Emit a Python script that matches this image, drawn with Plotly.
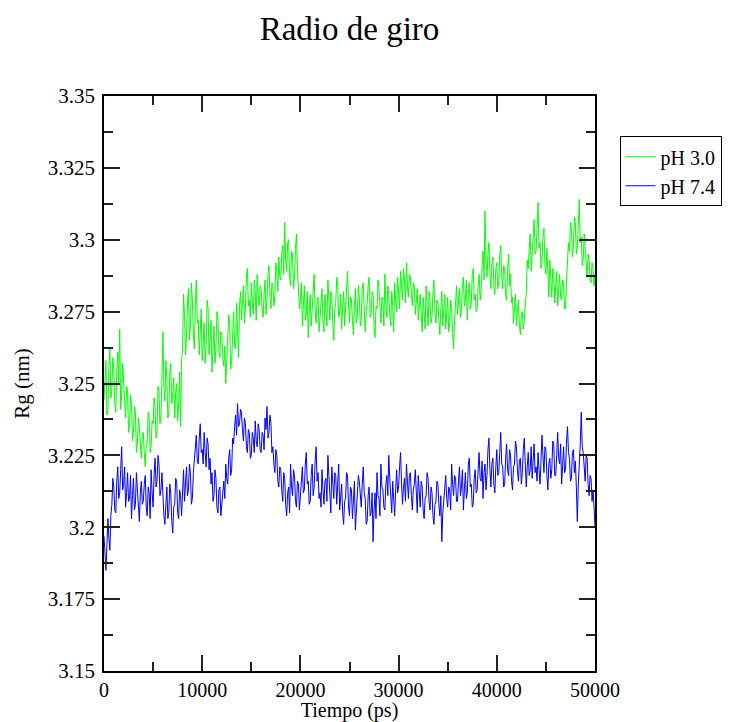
import plotly.graph_objects as go

time_ps = [100 * i for i in range(501)]

rg_ph30 = [
    3.244, 3.252, 3.258, 3.239, 3.241, 3.256, 3.262, 3.245, 3.248, 3.259, 3.255, 3.243, 3.240, 3.254, 3.261, 3.250, 3.269, 3.241, 3.246, 3.257,
    3.252, 3.244, 3.238, 3.249, 3.247, 3.233, 3.236, 3.246, 3.243, 3.230, 3.233, 3.242, 3.240, 3.226, 3.229, 3.238, 3.235, 3.227, 3.224, 3.232,
    3.233, 3.226, 3.221, 3.229, 3.230, 3.240, 3.238, 3.226, 3.228, 3.237, 3.236, 3.245, 3.242, 3.231, 3.234, 3.249, 3.247, 3.236, 3.239, 3.252,
    3.268, 3.249, 3.244, 3.258, 3.252, 3.238, 3.240, 3.254, 3.257, 3.243, 3.246, 3.252, 3.238, 3.247, 3.250, 3.237, 3.243, 3.254, 3.235, 3.258,
    3.262, 3.281, 3.274, 3.260, 3.266, 3.278, 3.283, 3.265, 3.270, 3.285, 3.279, 3.267, 3.262, 3.277, 3.286, 3.271, 3.272, 3.260, 3.268, 3.276,
    3.258, 3.266, 3.271, 3.257, 3.263, 3.279, 3.276, 3.260, 3.266, 3.272, 3.254, 3.263, 3.270, 3.257, 3.262, 3.275, 3.273, 3.261, 3.259, 3.268,
    3.267, 3.259, 3.256, 3.263, 3.250, 3.258, 3.264, 3.274, 3.271, 3.255, 3.258, 3.268, 3.275, 3.263, 3.262, 3.278, 3.268, 3.259, 3.277, 3.282,
    3.272, 3.280, 3.284, 3.271, 3.276, 3.287, 3.290, 3.277, 3.279, 3.273, 3.285, 3.278, 3.274, 3.286, 3.282, 3.272, 3.288, 3.280, 3.277, 3.284,
    3.283, 3.276, 3.273, 3.281, 3.286, 3.274, 3.279, 3.288, 3.291, 3.280, 3.276, 3.285, 3.284, 3.277, 3.280, 3.292, 3.289, 3.282, 3.294, 3.287,
    3.286, 3.295, 3.298, 3.288, 3.306, 3.293, 3.289, 3.299, 3.300, 3.287, 3.284, 3.296, 3.295, 3.283, 3.287, 3.297, 3.302, 3.290, 3.282, 3.276,
    3.279, 3.285, 3.270, 3.277, 3.284, 3.272, 3.274, 3.282, 3.266, 3.275, 3.281, 3.270, 3.276, 3.283, 3.288, 3.275, 3.271, 3.279, 3.280, 3.268,
    3.273, 3.279, 3.283, 3.271, 3.268, 3.281, 3.277, 3.270, 3.286, 3.276, 3.272, 3.282, 3.280, 3.271, 3.265, 3.276, 3.278, 3.287, 3.284, 3.273,
    3.275, 3.281, 3.269, 3.277, 3.282, 3.270, 3.276, 3.285, 3.289, 3.278, 3.271, 3.280, 3.279, 3.272, 3.267, 3.277, 3.283, 3.271, 3.274, 3.284,
    3.280, 3.270, 3.272, 3.283, 3.285, 3.276, 3.268, 3.275, 3.278, 3.284, 3.287, 3.273, 3.274, 3.282, 3.281, 3.270, 3.266, 3.277, 3.276, 3.286,
    3.283, 3.277, 3.271, 3.280, 3.279, 3.270, 3.288, 3.278, 3.273, 3.284, 3.281, 3.274, 3.270, 3.282, 3.277, 3.268, 3.285, 3.279, 3.275, 3.287,
    3.282, 3.276, 3.289, 3.283, 3.279, 3.290, 3.286, 3.278, 3.292, 3.284, 3.280, 3.288, 3.287, 3.281, 3.277, 3.285, 3.284, 3.274, 3.278, 3.283,
    3.272, 3.278, 3.281, 3.274, 3.268, 3.280, 3.276, 3.269, 3.284, 3.277, 3.270, 3.282, 3.279, 3.271, 3.273, 3.282, 3.286, 3.275, 3.271, 3.279,
    3.278, 3.272, 3.267, 3.276, 3.282, 3.270, 3.274, 3.281, 3.269, 3.277, 3.280, 3.268, 3.271, 3.279, 3.276, 3.268, 3.262, 3.272, 3.279, 3.284,
    3.274, 3.280, 3.283, 3.273, 3.276, 3.284, 3.287, 3.277, 3.279, 3.286, 3.272, 3.281, 3.285, 3.276, 3.278, 3.288, 3.290, 3.279, 3.281, 3.275,
    3.276, 3.284, 3.288, 3.279, 3.282, 3.291, 3.296, 3.286, 3.310, 3.293, 3.287, 3.295, 3.299, 3.288, 3.283, 3.292, 3.294, 3.284, 3.281, 3.290,
    3.292, 3.283, 3.285, 3.294, 3.298, 3.287, 3.283, 3.291, 3.290, 3.281, 3.279, 3.289, 3.295, 3.284, 3.288, 3.278, 3.280, 3.271, 3.276, 3.281,
    3.270, 3.276, 3.279, 3.271, 3.267, 3.274, 3.275, 3.269, 3.272, 3.278, 3.281, 3.293, 3.290, 3.297, 3.302, 3.289, 3.294, 3.301, 3.307, 3.295,
    3.296, 3.304, 3.313, 3.297, 3.299, 3.290, 3.292, 3.301, 3.304, 3.291, 3.288, 3.297, 3.286, 3.280, 3.293, 3.284, 3.280, 3.290, 3.289, 3.278,
    3.282, 3.289, 3.277, 3.283, 3.288, 3.280, 3.279, 3.286, 3.285, 3.276, 3.276, 3.286, 3.291, 3.299, 3.296, 3.306, 3.304, 3.294, 3.298, 3.308,
    3.306, 3.295, 3.297, 3.304, 3.314, 3.299, 3.301, 3.291, 3.293, 3.302, 3.297, 3.289, 3.287, 3.295, 3.293, 3.286, 3.285, 3.292, 3.290, 3.284,
    3.288,
]

rg_ph74 = [
    3.197, 3.189, 3.185, 3.194, 3.203, 3.196, 3.192, 3.204, 3.208, 3.217, 3.214, 3.206, 3.205, 3.216, 3.221, 3.210, 3.212, 3.220, 3.228, 3.213,
    3.215, 3.221, 3.207, 3.212, 3.219, 3.209, 3.210, 3.218, 3.203, 3.211, 3.217, 3.206, 3.208, 3.219, 3.213, 3.204, 3.202, 3.212, 3.216, 3.208,
    3.209, 3.215, 3.218, 3.207, 3.204, 3.214, 3.212, 3.203, 3.220, 3.212, 3.207, 3.218, 3.224, 3.214, 3.216, 3.225, 3.222, 3.211, 3.213, 3.219,
    3.210, 3.204, 3.201, 3.211, 3.214, 3.203, 3.205, 3.215, 3.212, 3.202, 3.198, 3.207, 3.208, 3.217, 3.216, 3.205, 3.203, 3.213, 3.211, 3.204,
    3.214, 3.220, 3.209, 3.215, 3.221, 3.211, 3.213, 3.222, 3.219, 3.208, 3.210, 3.219, 3.224, 3.230, 3.232, 3.223, 3.222, 3.231, 3.236, 3.226,
    3.227, 3.222, 3.233, 3.226, 3.221, 3.231, 3.229, 3.220, 3.224, 3.215, 3.219, 3.209, 3.211, 3.220, 3.217, 3.207, 3.205, 3.213, 3.214, 3.204,
    3.208, 3.213, 3.216, 3.210, 3.222, 3.217, 3.215, 3.224, 3.227, 3.218, 3.220, 3.231, 3.229, 3.235, 3.239, 3.232, 3.243, 3.235, 3.236, 3.241,
    3.240, 3.234, 3.230, 3.238, 3.236, 3.228, 3.226, 3.234, 3.233, 3.224, 3.225, 3.233, 3.231, 3.226, 3.237, 3.230, 3.228, 3.236, 3.234, 3.227,
    3.226, 3.233, 3.232, 3.227, 3.238, 3.234, 3.242, 3.231, 3.233, 3.239, 3.236, 3.226, 3.228, 3.222, 3.219, 3.227, 3.225, 3.216, 3.214, 3.221,
    3.220, 3.213, 3.209, 3.219, 3.217, 3.208, 3.204, 3.212, 3.214, 3.205, 3.222, 3.214, 3.211, 3.220, 3.218, 3.209, 3.207, 3.216, 3.215, 3.206,
    3.210, 3.217, 3.221, 3.212, 3.213, 3.222, 3.226, 3.215, 3.216, 3.208, 3.209, 3.218, 3.222, 3.211, 3.214, 3.223, 3.228, 3.216, 3.219, 3.210,
    3.212, 3.207, 3.220, 3.213, 3.208, 3.216, 3.217, 3.209, 3.225, 3.218, 3.213, 3.205, 3.221, 3.214, 3.210, 3.219, 3.218, 3.208, 3.214, 3.222,
    3.206, 3.212, 3.215, 3.205, 3.201, 3.209, 3.210, 3.219, 3.218, 3.207, 3.204, 3.214, 3.213, 3.203, 3.208, 3.216, 3.199, 3.206, 3.211, 3.218,
    3.216, 3.209, 3.207, 3.215, 3.221, 3.212, 3.210, 3.201, 3.202, 3.211, 3.214, 3.204, 3.205, 3.212, 3.195, 3.206, 3.212, 3.203, 3.219, 3.211,
    3.210, 3.204, 3.222, 3.214, 3.213, 3.207, 3.206, 3.215, 3.218, 3.211, 3.225, 3.217, 3.211, 3.205, 3.216, 3.209, 3.204, 3.213, 3.220, 3.212,
    3.214, 3.221, 3.226, 3.215, 3.208, 3.214, 3.217, 3.209, 3.222, 3.216, 3.210, 3.218, 3.219, 3.211, 3.206, 3.213, 3.215, 3.220, 3.211, 3.205,
    3.218, 3.211, 3.207, 3.216, 3.214, 3.206, 3.203, 3.210, 3.211, 3.219, 3.217, 3.209, 3.206, 3.214, 3.212, 3.204, 3.201, 3.208, 3.209, 3.216,
    3.215, 3.208, 3.204, 3.211, 3.195, 3.205, 3.210, 3.216, 3.218, 3.210, 3.207, 3.214, 3.213, 3.206, 3.222, 3.215, 3.211, 3.218, 3.217, 3.209,
    3.209, 3.216, 3.221, 3.211, 3.214, 3.220, 3.206, 3.213, 3.219, 3.210, 3.212, 3.222, 3.224, 3.214, 3.215, 3.207, 3.208, 3.217, 3.220, 3.212,
    3.213, 3.220, 3.226, 3.217, 3.216, 3.223, 3.210, 3.219, 3.222, 3.213, 3.218, 3.227, 3.231, 3.220, 3.214, 3.222, 3.224, 3.215, 3.212, 3.221,
    3.227, 3.218, 3.219, 3.226, 3.233, 3.222, 3.221, 3.214, 3.215, 3.224, 3.229, 3.220, 3.218, 3.227, 3.225, 3.216, 3.213, 3.221, 3.222, 3.230,
    3.228, 3.220, 3.216, 3.223, 3.224, 3.215, 3.219, 3.227, 3.231, 3.222, 3.214, 3.221, 3.226, 3.218, 3.220, 3.228, 3.217, 3.223, 3.229, 3.219,
    3.221, 3.216, 3.226, 3.220, 3.215, 3.223, 3.232, 3.225, 3.219, 3.228, 3.227, 3.218, 3.213, 3.222, 3.224, 3.217, 3.220, 3.230, 3.229, 3.218,
    3.218, 3.225, 3.233, 3.224, 3.222, 3.229, 3.215, 3.221, 3.228, 3.219, 3.220, 3.230, 3.235, 3.226, 3.224, 3.216, 3.217, 3.226, 3.227, 3.219,
    3.223, 3.214, 3.202, 3.215, 3.221, 3.229, 3.240, 3.228, 3.226, 3.219, 3.216, 3.225, 3.224, 3.215, 3.211, 3.218, 3.217, 3.209, 3.213, 3.207,
    3.200,
]

y_ticks = [3.15, 3.175, 3.2, 3.225, 3.25, 3.275, 3.3, 3.325, 3.35]
y_tick_labels = ["3.15", "3.175", "3.2", "3.225", "3.25", "3.275", "3.3", "3.325", "3.35"]
x_ticks = [0, 10000, 20000, 30000, 40000, 50000]
x_tick_labels = ["0", "10000", "20000", "30000", "40000", "50000"]

FONT = "Liberation Serif"

fig = go.Figure()
fig.add_trace(go.Scatter(x=time_ps, y=rg_ph30, mode="lines", name="pH 3.0",
                         line=dict(color="#00ff00", width=1)))
fig.add_trace(go.Scatter(x=time_ps, y=rg_ph74, mode="lines", name="pH 7.4",
                         line=dict(color="#0000ff", width=1)))

axis_common = dict(
    showgrid=False, zeroline=False, showline=True, linecolor="black", linewidth=1.5,
    mirror="allticks", ticks="inside", ticklen=16, tickwidth=1.5, tickcolor="#222",
    automargin=False,
)

fig.update_xaxes(
    range=[0, 50000], tickvals=x_ticks, ticktext=x_tick_labels, ticklabelstandoff=0,
    tickfont=dict(family=FONT, size=20, color="black"),
    title=dict(text="Tiempo (ps)", font=dict(family=FONT, size=20, color="black"), standoff=0),
    minor=dict(ticks="inside", ticklen=9, tickwidth=1.5, tickcolor="#222", dtick=5000, tick0=0, showgrid=False),
    **axis_common,
)
fig.update_yaxes(
    range=[3.15, 3.35], tickvals=y_ticks, ticktext=y_tick_labels, ticklabelstandoff=3,
    tickfont=dict(family=FONT, size=21, color="black"),
    title=dict(text="Rg (nm)", font=dict(family=FONT, size=21, color="black"), standoff=12),
    minor=dict(ticks="inside", ticklen=9, tickwidth=1.5, tickcolor="#222", dtick=0.0125, tick0=3.15, showgrid=False),
    **axis_common,
)

fig.update_layout(
    width=732, height=722,
    margin=dict(l=104, r=137, t=96, b=51, autoexpand=False),
    paper_bgcolor="white", plot_bgcolor="white",
    title=dict(text="Radio de giro", font=dict(family=FONT, size=33, color="black"),
               x=0.5, xref="paper", xanchor="center", y=1 - 28 / 722, yref="container", yanchor="middle"),
    legend=dict(x=1.05, y=0.93, xanchor="left", yanchor="top",
                bordercolor="black", borderwidth=1, bgcolor="white",
                font=dict(family=FONT, size=20, color="black"),
                tracegroupgap=0, itemwidth=30),
    showlegend=True,
)

fig.write_html("out.html")
